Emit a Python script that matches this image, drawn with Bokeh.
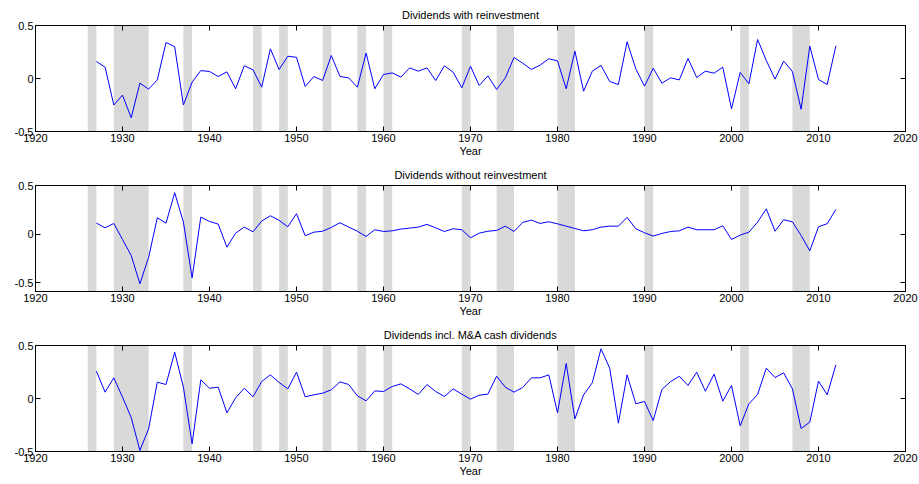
from bokeh.plotting import figure
from bokeh.layouts import column
from bokeh.models import Range1d, LinearAxis, FixedTicker, BoxAnnotation
from bokeh.embed import file_html
from bokeh.resources import INLINE

YEARS = [1927, 1928, 1929, 1930, 1931, 1932, 1933, 1934, 1935, 1936, 1937, 1938, 1939,
         1940, 1941, 1942, 1943, 1944, 1945, 1946, 1947, 1948, 1949, 1950, 1951, 1952,
         1953, 1954, 1955, 1956, 1957, 1958, 1959, 1960, 1961, 1962, 1963, 1964, 1965,
         1966, 1967, 1968, 1969, 1970, 1971, 1972, 1973, 1974, 1975, 1976, 1977, 1978,
         1979, 1980, 1981, 1982, 1983, 1984, 1985, 1986, 1987, 1988, 1989, 1990, 1991,
         1992, 1993, 1994, 1995, 1996, 1997, 1998, 1999, 2000, 2001, 2002, 2003, 2004,
         2005, 2006, 2007, 2008, 2009, 2010, 2011, 2012]

WITH_REINV = [0.160, 0.107, -0.250, -0.157, -0.370, -0.044, -0.100, -0.013, 0.340, 0.300,
              -0.250, -0.035, 0.075, 0.066, 0.019, 0.063, -0.097, 0.120, 0.082, -0.082,
              0.280, 0.085, 0.210, 0.200, -0.075, 0.019, -0.019, 0.217, 0.019, 0.006,
              -0.082, 0.240, -0.097, 0.038, 0.053, 0.013, 0.100, 0.069, 0.100, -0.019,
              0.120, 0.060, -0.088, 0.116, -0.066, 0.025, -0.104, 0.006, 0.198, 0.145,
              0.085, 0.126, 0.186, 0.167, -0.097, 0.258, -0.120, 0.069, 0.123, -0.028,
              -0.057, 0.346, 0.091, -0.072, 0.097, -0.044, 0.006, -0.013, 0.189, 0.009,
              0.069, 0.050, 0.107, -0.286, 0.057, -0.050, 0.368, 0.170, -0.006, 0.164,
              0.066, -0.290, 0.305, -0.009, -0.057, 0.308]

WITHOUT_REINV = [0.113, 0.065, 0.110, -0.055, -0.220, -0.510, -0.240, 0.168, 0.113, 0.426,
                 0.124, -0.450, 0.175, 0.130, 0.103, -0.134, 0.010, 0.072, 0.024, 0.134,
                 0.189, 0.141, 0.076, 0.210, -0.017, 0.020, 0.030, 0.069, 0.117, 0.072,
                 0.030, -0.024, 0.045, 0.027, 0.034, 0.052, 0.062, 0.072, 0.100, 0.065,
                 0.027, 0.055, 0.045, -0.038, 0.010, 0.030, 0.038, 0.082, 0.027, 0.120,
                 0.144, 0.110, 0.127, 0.106, 0.082, 0.058, 0.034, 0.045, 0.072, 0.082,
                 0.082, 0.172, 0.055, 0.014, -0.020, 0.007, 0.027, 0.034, 0.072, 0.045,
                 0.045, 0.045, 0.086, -0.055, -0.010, 0.020, 0.124, 0.260, 0.030, 0.148,
                 0.127, -0.014, -0.172, 0.076, 0.107, 0.254]

INCL_MA = [0.258, 0.060, 0.195, 0.013, -0.180, -0.490, -0.286, 0.154, 0.132, 0.437,
           0.107, -0.428, 0.176, 0.097, 0.107, -0.135, 0.006, 0.097, 0.016, 0.160,
           0.223, 0.151, 0.091, 0.248, 0.016, 0.035, 0.050, 0.082, 0.157, 0.132,
           0.025, -0.022, 0.072, 0.066, 0.113, 0.138, 0.091, 0.038, 0.132, 0.066,
           0.019, 0.091, 0.041, -0.006, 0.031, 0.041, 0.210, 0.107, 0.060, 0.104,
           0.195, 0.195, 0.223, -0.135, 0.330, -0.192, 0.035, 0.148, 0.469, 0.286,
           -0.233, 0.223, -0.050, -0.028, -0.208, 0.085, 0.160, 0.210, 0.123, 0.248,
           0.069, 0.230, -0.025, 0.123, -0.258, -0.050, 0.038, 0.286, 0.198, 0.242,
           0.091, -0.283, -0.223, 0.164, 0.035, 0.318]

REC_START = [1926, 1929, 1937, 1945, 1948, 1953, 1957, 1960, 1969, 1973, 1980, 1990, 2001, 2007]
REC_END = [1927, 1933, 1938, 1946, 1949, 1954, 1958, 1961, 1970, 1975, 1982, 1991, 2002, 2009]

TITLES = ["Dividends with reinvestment", "Dividends without reinvestment",
          "Dividends incl. M&A cash dividends"]
X_TICKS = [1920, 1930, 1940, 1950, 1960, 1970, 1980, 1990, 2000, 2010, 2020]
Y_TICKS = [-0.5, 0, 0.5]
Y_TICK_LABELS = ["-0.5", "0", "0.5"]
X_LABEL = "Year"
Y_LIMITS = [(-0.5, 0.5), (-0.59, 0.5), (-0.5, 0.5)]

FONT = "Liberation Sans"
FRAME_W = 870
FRAME_H = 106


def style_axis(ax, ticks, show_labels=True):
    ax.ticker = FixedTicker(ticks=ticks)
    ax.major_tick_in = 5
    ax.major_tick_out = 0
    ax.minor_tick_line_color = None
    ax.major_tick_line_color = "black"
    ax.axis_line_color = "black"
    ax.major_label_text_font = FONT
    if show_labels:
        ax.major_label_text_color = "black"
        ax.major_label_text_font_size = "11px"
        ax.major_label_standoff = 2
    else:
        ax.major_label_text_color = None
        ax.major_label_text_font_size = "0px"
        ax.major_label_standoff = 0


def make_panel(title, values, ylim, bottom_border):
    p = figure(frame_width=FRAME_W, frame_height=FRAME_H,
               x_range=Range1d(1920, 2020), y_range=Range1d(*ylim),
               output_backend="svg", toolbar_location=None,
               min_border_left=35, min_border_right=14,
               min_border_top=25, min_border_bottom=bottom_border,
               background_fill_color="white", border_fill_color="white")
    p.title.text = title
    p.title.align = "center"
    p.title.text_font = FONT
    p.title.text_font_size = "11px"
    p.title.text_font_style = "normal"
    p.title.text_color = "black"
    p.title.standoff = 9
    p.outline_line_color = "black"
    p.outline_line_width = 1
    p.xgrid.grid_line_color = None
    p.ygrid.grid_line_color = None

    for s, e in zip(REC_START, REC_END):
        p.add_layout(BoxAnnotation(left=s, right=e, fill_color="#d9d9d9", fill_alpha=1.0,
                                   line_color=None, level="underlay"))

    p.line(YEARS, values, line_color="#0000ff", line_width=1)

    xa = p.xaxis[0]
    style_axis(xa, X_TICKS)
    xa.axis_label = X_LABEL
    xa.axis_label_text_font = FONT
    xa.axis_label_text_font_size = "11px"
    xa.axis_label_text_font_style = "normal"
    xa.axis_label_text_color = "black"
    xa.axis_label_standoff = 0

    ya = p.yaxis[0]
    style_axis(ya, Y_TICKS)
    ya.major_label_overrides = {t: l for t, l in zip(Y_TICKS, Y_TICK_LABELS)}

    top = LinearAxis()
    style_axis(top, X_TICKS, show_labels=False)
    p.add_layout(top, "above")
    right = LinearAxis()
    style_axis(right, Y_TICKS, show_labels=False)
    p.add_layout(right, "right")
    return p


p1 = make_panel(TITLES[0], WITH_REINV, Y_LIMITS[0], 29)
p2 = make_panel(TITLES[1], WITHOUT_REINV, Y_LIMITS[1], 29)
p3 = make_panel(TITLES[2], INCL_MA, Y_LIMITS[2], 33)

layout = column(p1, p2, p3, spacing=0)

open("out.html", "w").write(file_html(layout, INLINE))
